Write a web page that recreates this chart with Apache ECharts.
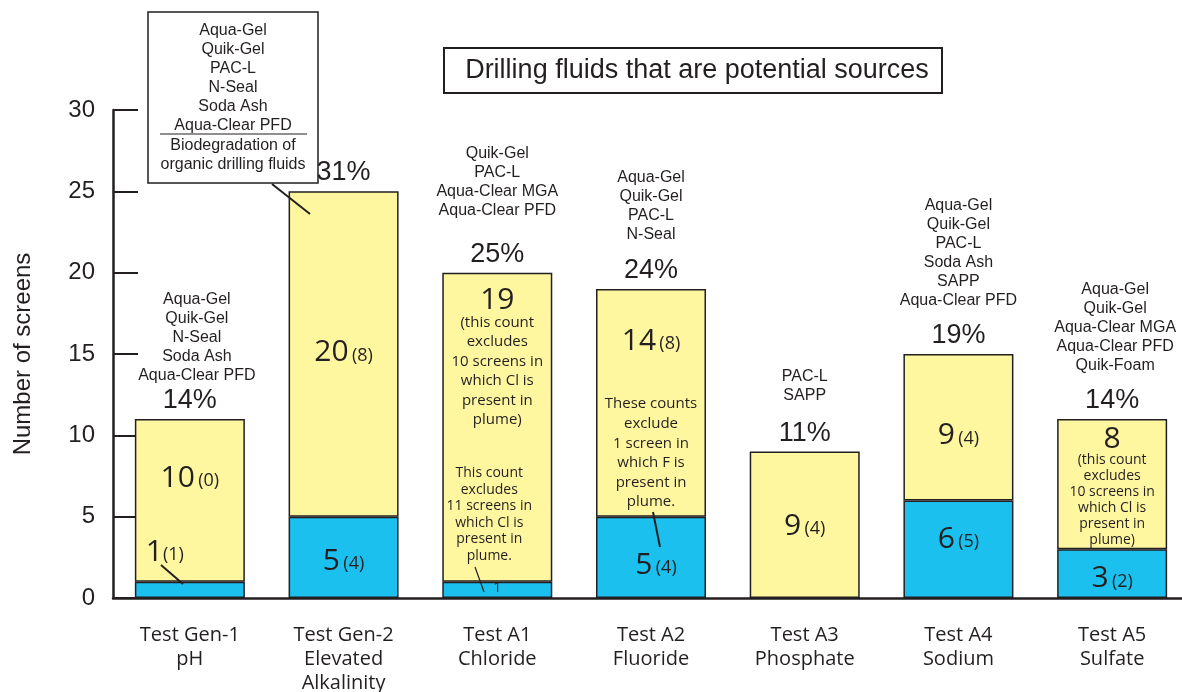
<!DOCTYPE html>
<html>
<head>
<meta charset="utf-8">
<script src="https://cdn.jsdelivr.net/npm/echarts@6/dist/echarts.min.js"></script>
<style>
  html, body { margin: 0; padding: 0; background: #fff; }
  #main { width: 1182px; height: 692px; }
</style>
</head>
<body>
<div id="main"></div>
<script>
// categories and counts
var categories = ['Test Gen-1\npH', 'Test Gen-2\nElevated\nAlkalinity', 'Test A1\nChloride', 'Test A2\nFluoride',
  'Test A3\nPhosphate', 'Test A4\nSodium', 'Test A5\nSulfate'];
var blueCounts = [1, 5, 1, 5, 0, 6, 3];
var yellowCounts = [10, 20, 19, 14, 9, 9, 8];
var percentLabels = ['14%', '31%', '25%', '24%', '11%', '19%', '14%'];
var yTicks = [0, 5, 10, 15, 20, 25, 30];

// drilling fluids listed above each bar (Gen-2 is in the boxed note)
var fluidLists = [
  'Aqua-Gel\nQuik-Gel\nN-Seal\nSoda Ash\nAqua-Clear PFD',
  '',
  'Quik-Gel\nPAC-L\nAqua-Clear MGA\nAqua-Clear PFD',
  'Aqua-Gel\nQuik-Gel\nPAC-L\nN-Seal',
  'PAC-L\nSAPP',
  'Aqua-Gel\nQuik-Gel\nPAC-L\nSoda Ash\nSAPP\nAqua-Clear PFD',
  'Aqua-Gel\nQuik-Gel\nAqua-Clear MGA\nAqua-Clear PFD\nQuik-Foam'
];
var fluidListY = [13.1, 0, 23.26, 21.73, 11.83, 17.67, 13.68];
var fluidListDx = [7, 0, 0, 0, 0, 0, 3];
var gen2Fluids = ['Aqua-Gel', 'Quik-Gel', 'PAC-L', 'N-Seal', 'Soda Ash', 'Aqua-Clear PFD'];
var gen2Note = ['Biodegradation of', 'organic drilling fluids'];

// count labels inside bars: category, y, count, (count in parentheses)
var countCat = [0, 0, 1, 1, 2, 3, 3, 4, 5, 5, 6, 6];
var countY = [7.5, 2.95, 15.2, 2.4, 18.4, 15.9, 2.15, 4.55, 10.1, 3.75, 9.9, 1.3];
var countMain = ['10', '1', '20', '5', '19', '14', '5', '9', '9', '6', '8', '3'];
var countSub = ['(0)', '(1)', '(8)', '(4)', '', '(8)', '(4)', '(4)', '(4)', '(5)', '', '(2)'];
var countDx = [0, -25, 0, 0, 0, 0, 5, 0, 0, 0, 0, 0];

// notes inside bars
var noteCat = [2, 2, 2, 3, 6];
var noteY = [13.95, 5.13, 0.6, 8.91, 6.02];
var noteText = [
  '(this count\nexcludes\n10 screens in\nwhich Cl is\npresent in\nplume)',
  'This count\nexcludes\n11 screens in\nwhich Cl is\npresent in\nplume.',
  '1',
  'These counts\nexclude\n1 screen in\nwhich F is\npresent in\nplume.',
  '(this count\nexcludes\n10 screens in\nwhich Cl is\npresent in\nplume)'
];
var noteLine = [19.5, 16.6, 18, 19.6, 16];
var noteDx = [0, -8, 0, 0, 0];

var INK = '#231f20';
var SANS = '"Liberation Sans", Arial, sans-serif';
var HUMAN = '"Open Sans", "Noto Sans", sans-serif';

var annData = [];
for (var i = 0; i < countMain.length; i++) {
  var txt = '{n|' + countMain[i] + '}' + (countSub[i] ? (countMain[i] === '1' ? '' : ' ') + '{p|' + countSub[i] + '}' : '');
  annData.push({
    value: [countCat[i], countY[i]],
    label: {
      position: 'inside', offset: [countDx[i], 0], formatter: txt,
      rich: {
        n: { fontFamily: HUMAN, fontSize: 30, color: INK, lineHeight: 34, verticalAlign: 'bottom' },
        p: { fontFamily: HUMAN, fontSize: 18, color: INK, lineHeight: 34, verticalAlign: 'bottom', padding: [0, 0, 3, 0] }
      }
    }
  });
}
for (var j = 0; j < noteText.length; j++) {
  annData.push({
    value: [noteCat[j], noteY[j]],
    label: {
      position: 'inside', offset: [noteDx[j], 0], formatter: noteText[j],
      fontFamily: HUMAN, fontSize: noteLine[j] > 18 ? 15 : 14, lineHeight: noteLine[j], color: INK, align: 'center'
    }
  });
}
for (var k = 0; k < fluidLists.length; k++) {
  if (!fluidLists[k]) continue;
  annData.push({
    value: [k, fluidListY[k]],
    label: {
      position: 'top', distance: 0, offset: [fluidListDx[k], 0], formatter: fluidLists[k],
      fontFamily: SANS, fontSize: 16, lineHeight: 19, color: INK, align: 'center'
    }
  });
}

var myChart = echarts.init(document.getElementById('main'));

var graphics = [
  // title box
  { type: 'rect', shape: { x: 444, y: 48, width: 498, height: 45 }, style: { fill: '#fff', stroke: INK, lineWidth: 2 } },
  { type: 'text', x: 697, y: 71, style: { text: 'Drilling fluids that are potential sources', font: '27px ' + SANS, fill: INK, align: 'center', verticalAlign: 'middle' } },
  // Gen-2 fluid box
  { type: 'rect', shape: { x: 148, y: 12, width: 170, height: 171 }, style: { fill: '#fff', stroke: INK, lineWidth: 1.5 } },
  { type: 'text', x: 233, y: 21.5, style: { text: gen2Fluids.join('\n'), font: '16px ' + SANS, lineHeight: 19, fill: INK, align: 'center', verticalAlign: 'top' } },
  { type: 'line', shape: { x1: 160, y1: 134, x2: 307, y2: 134 }, style: { stroke: INK, lineWidth: 1.2 } },
  { type: 'text', x: 233, y: 136.5, style: { text: gen2Note.join('\n'), font: '16px ' + SANS, lineHeight: 19, fill: INK, align: 'center', verticalAlign: 'top' } },
  // leader lines
  { type: 'line', shape: { x1: 272, y1: 184, x2: 310, y2: 214 }, style: { stroke: INK, lineWidth: 2 }, z: 10 },
  { type: 'line', shape: { x1: 161, y1: 565, x2: 183, y2: 584 }, style: { stroke: INK, lineWidth: 2 }, z: 10 },
  { type: 'line', shape: { x1: 475, y1: 567, x2: 484, y2: 592 }, style: { stroke: INK, lineWidth: 1.2 }, z: 10 },
  { type: 'line', shape: { x1: 653, y1: 512, x2: 660, y2: 547 }, style: { stroke: INK, lineWidth: 2 }, z: 10 }
];

myChart.setOption({
  animation: false,
  backgroundColor: '#fff',
  grid: { left: 113, top: 110, width: 1076, height: 488, outerBoundsMode: 'none', containLabel: false },
  xAxis: {
    type: 'category',
    data: categories,
    axisLine: { lineStyle: { color: INK, width: 2.5 } },
    axisTick: { inside: true, length: 10, lineStyle: { color: INK, width: 2 } },
    axisLabel: { margin: 25, fontFamily: HUMAN, fontSize: 20, lineHeight: 24, color: INK, interval: 0 }
  },
  yAxis: {
    type: 'value',
    min: yTicks[0],
    max: yTicks[yTicks.length - 1],
    interval: 5,
    name: 'Number of screens',
    nameLocation: 'middle',
    nameGap: 78,
    nameTextStyle: { fontFamily: SANS, fontSize: 24, color: INK },
    axisLine: { show: true, lineStyle: { color: INK, width: 2.5 } },
    axisTick: { show: true, inside: true, length: 25, lineStyle: { color: INK, width: 2 } },
    axisLabel: { margin: 18, fontFamily: SANS, fontSize: 24, color: INK },
    splitLine: { show: false }
  },
  series: [
    {
      name: 'blue', type: 'bar', stack: 'total', barWidth: 110,
      data: blueCounts,
      itemStyle: { color: '#1bc0ef', borderColor: '#231f20', borderWidth: 1.5 }
    },
    {
      name: 'yellow', type: 'bar', stack: 'total', barWidth: 110,
      data: yellowCounts,
      itemStyle: { color: '#fff6a0', borderColor: '#231f20', borderWidth: 1.5 },
      label: {
        show: true, position: 'top', distance: 5,
        formatter: function (p) { return percentLabels[p.dataIndex]; },
        fontFamily: SANS, fontSize: 27, color: INK
      }
    },
    {
      name: 'notes', type: 'scatter', symbolSize: 0, silent: true, z: 5,
      itemStyle: { opacity: 1 },
      data: annData,
      label: { show: true }
    }
  ],
  graphic: graphics
});
</script>
</body>
</html>
